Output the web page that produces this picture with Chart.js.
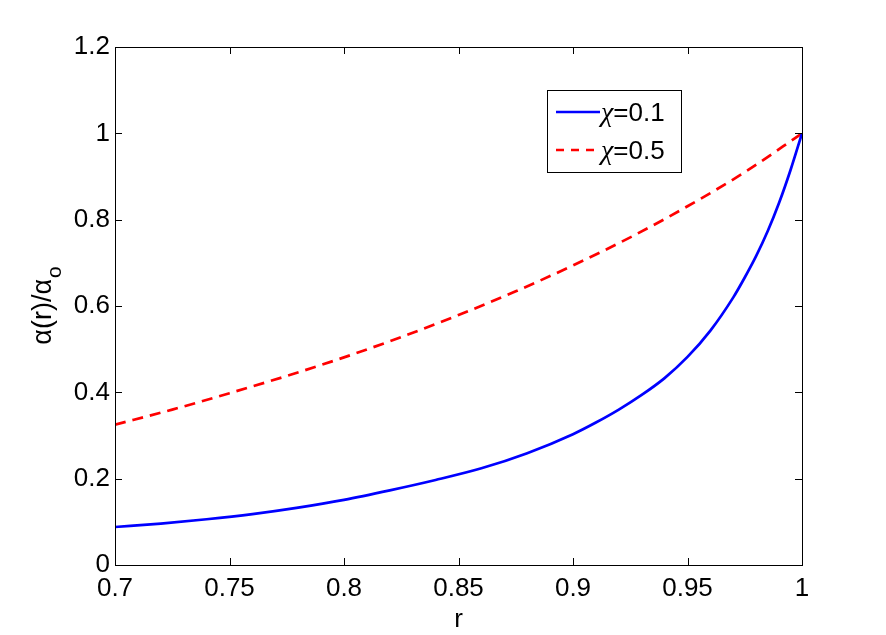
<!DOCTYPE html>
<html>
<head>
<meta charset="utf-8">
<script src="https://cdn.jsdelivr.net/npm/chart.js@4.4.1/dist/chart.umd.min.js"></script>
<style>
  body { margin: 0; background: #fff; }
  #wrap { width: 886px; height: 635px; }
</style>
</head>
<body>
<div id="wrap"><canvas id="plot"></canvas></div>
<script>
// values
const rBlue = [0.70, 0.72, 0.74, 0.76, 0.78, 0.80, 0.82, 0.84, 0.86, 0.88, 0.90, 0.91, 0.92, 0.93, 0.94, 0.95, 0.96, 0.97, 0.975, 0.98, 0.985, 0.99, 0.995, 1.00];
const alphaBlue = [0.088, 0.096, 0.106, 0.118, 0.133, 0.151, 0.173, 0.197, 0.224, 0.259, 0.303, 0.330, 0.360, 0.394, 0.433, 0.482, 0.543, 0.620, 0.666, 0.716, 0.773, 0.839, 0.915, 1.000];
const rRed = [0.70, 0.725, 0.75, 0.775, 0.80, 0.825, 0.85, 0.875, 0.90, 0.925, 0.95, 0.975, 1.00];
const alphaRed = [0.325, 0.360, 0.398, 0.438, 0.481, 0.528, 0.579, 0.634, 0.694, 0.759, 0.831, 0.910, 1.000];
const seriesNames = ['χ=0.1', 'χ=0.5'];
const xTicks = [0.7, 0.75, 0.8, 0.85, 0.9, 0.95, 1];
const yTicks = [0, 0.2, 0.4, 0.6, 0.8, 1, 1.2];

const SANS = '"Liberation Sans", Arial, sans-serif';
const SERIF = '"Liberation Serif", "Times New Roman", serif';
Chart.defaults.font.family = SANS;
Chart.defaults.color = '#000';

function toPoints(xs, ys) {
  return xs.map((x, i) => ({ x: x, y: ys[i] }));
}

// matlab style box with inward ticks on all four sides
const boxPlugin = {
  id: 'matlabBox',
  afterDatasetsDraw(chart) {
    const ctx = chart.ctx;
    const a = chart.chartArea;
    const xs = chart.scales.x;
    const ys = chart.scales.y;
    const len = 7;
    ctx.save();
    ctx.strokeStyle = '#000';
    ctx.lineWidth = 1;
    ctx.beginPath();
    xTicks.forEach(v => {
      const px = Math.round(xs.getPixelForValue(v)) + 0.5;
      ctx.moveTo(px, a.bottom); ctx.lineTo(px, a.bottom - len);
      ctx.moveTo(px, a.top); ctx.lineTo(px, a.top + len);
    });
    yTicks.forEach(v => {
      const py = Math.round(ys.getPixelForValue(v)) + 0.5;
      ctx.moveTo(a.left, py); ctx.lineTo(a.left + len, py);
      ctx.moveTo(a.right, py); ctx.lineTo(a.right - len, py);
    });
    ctx.stroke();
    ctx.strokeRect(Math.round(a.left) + 0.5, Math.round(a.top) + 0.5, Math.round(a.right - a.left), Math.round(a.bottom - a.top));
    ctx.restore();
  },
  afterDraw(chart) {
    const ctx = chart.ctx;
    // y axis title with subscript
    ctx.save();
    ctx.translate(51, 306);
    ctx.rotate(-Math.PI / 2);
    ctx.fillStyle = '#000';
    ctx.textBaseline = 'alphabetic';
    ctx.font = '27px ' + SANS;
    const main = 'α(r)/α';
    const w1 = ctx.measureText(main).width;
    ctx.font = '21px ' + SANS;
    const w2 = ctx.measureText('o').width;
    const start = -(w1 + w2) / 2;
    ctx.font = '27px ' + SANS;
    ctx.fillText(main, start, 0);
    ctx.font = '21px ' + SANS;
    ctx.fillText('o', start + w1 + 1, 10);
    ctx.restore();

    // legend box
    const bx = 547, by = 90, bw = 134, bh = 82;
    ctx.save();
    ctx.fillStyle = '#fff';
    ctx.fillRect(bx, by, bw, bh);
    ctx.strokeStyle = '#000';
    ctx.lineWidth = 1;
    ctx.strokeRect(bx + 0.5, by + 0.5, bw, bh);
    const rows = [112, 150];
    chart.data.datasets.forEach((ds, i) => {
      ctx.strokeStyle = ds.borderColor;
      ctx.lineWidth = ds.borderWidth;
      ctx.setLineDash(i === 1 ? [8, 7] : []);
      ctx.beginPath();
      ctx.moveTo(556, rows[i]);
      ctx.lineTo(600, rows[i]);
      ctx.stroke();
      ctx.setLineDash([]);
      ctx.fillStyle = '#000';
      ctx.textBaseline = 'alphabetic';
      const greek = ds.label.charAt(0);
      const rest = ds.label.slice(1);
      ctx.font = 'italic 28px ' + SERIF;
      ctx.fillText(greek, 601, rows[i] + 9);
      const gw = ctx.measureText(greek).width;
      ctx.font = '26px ' + SANS;
      ctx.fillText(rest, 601 + gw, rows[i] + 9);
    });
    ctx.restore();
  }
};

const chart = new Chart(document.getElementById('plot'), {
  type: 'line',
  data: {
    datasets: [
      {
        label: seriesNames[0],
        data: toPoints(rBlue, alphaBlue),
        borderColor: '#0000ff',
        borderWidth: 2.7,
        pointRadius: 0,
        cubicInterpolationMode: 'monotone',
        fill: false
      },
      {
        label: seriesNames[1],
        data: toPoints(rRed, alphaRed),
        borderColor: '#ff0000',
        borderWidth: 2.7,
        borderDash: [11, 7],
        pointRadius: 0,
        cubicInterpolationMode: 'monotone',
        fill: false
      }
    ]
  },
  options: {
    responsive: true,
    maintainAspectRatio: false,
    animation: false,
    layout: { padding: { top: 47, right: 84, left: 0, bottom: 0 } },
    plugins: {
      legend: { display: false },
      tooltip: { enabled: false }
    },
    scales: {
      x: {
        type: 'linear',
        min: 0.7,
        max: 1,
        afterBuildTicks: (scale) => { scale.ticks = xTicks.map(v => ({ value: v })); },
        afterFit: (scale) => { scale.height = 70; },
        grid: { display: false, drawTicks: false },
        border: { display: false },
        ticks: {
          font: { size: 26 },
          padding: 8,
          maxRotation: 0,
          callback: (v) => String(v)
        },
        title: {
          display: true,
          text: 'r',
          font: { size: 26 },
          padding: { top: -6, bottom: 0 }
        }
      },
      y: {
        type: 'linear',
        min: 0,
        max: 1.2,
        afterBuildTicks: (scale) => { scale.ticks = yTicks.map(v => ({ value: v })); },
        afterFit: (scale) => { scale.width = 115; },
        grid: { display: false, drawTicks: false },
        border: { display: false },
        ticks: {
          font: { size: 26 },
          padding: 5,
          callback: (v) => String(v)
        }
      }
    }
  },
  plugins: [boxPlugin]
});
</script>
</body>
</html>
